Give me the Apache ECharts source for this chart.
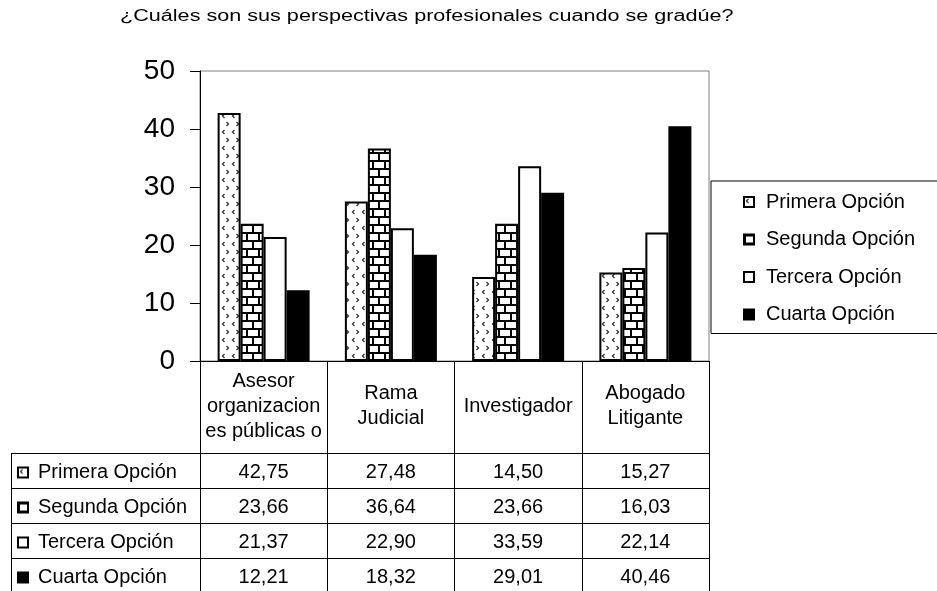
<!DOCTYPE html>
<html><head><meta charset="utf-8">
<script src="https://cdn.jsdelivr.net/npm/echarts@6/dist/echarts.min.js"></script>
<style>html,body{margin:0;padding:0;background:#fff}#c{width:937px;height:591px}</style>
</head><body><div id="c"></div>
<script>
const titleText = '¿Cuáles son sus perspectivas profesionales cuando se gradúe?';
const categories = ['Asesor\norganizacion\nes públicas o', 'Rama\nJudicial', 'Investigador', 'Abogado\nLitigante'];
const seriesNames = ['Primera Opción', 'Segunda Opción', 'Tercera Opción', 'Cuarta Opción'];
const primera = [42.75, 27.48, 14.50, 15.27];
const segunda = [23.66, 36.64, 23.66, 16.03];
const tercera = [21.37, 22.90, 33.59, 22.14];
const cuarta  = [12.21, 18.32, 29.01, 40.46];
const yTicks = [0, 10, 20, 30, 40, 50];

const FONT = "'Liberation Sans', Arial, sans-serif";
const values = [primera, segunda, tercera, cuarta];
const fmt = v => v.toFixed(2).replace('.', ',');

function dotPattern() {
  const c = document.createElement('canvas'); c.width = 10; c.height = 16;
  const g = c.getContext('2d');
  g.fillStyle = '#fff'; g.fillRect(0, 0, 10, 16);
  g.strokeStyle = '#333'; g.lineWidth = 1.3;
  g.beginPath(); g.moveTo(4.5, 2); g.lineTo(2.5, 4); g.lineTo(4.5, 6); g.stroke();
  g.beginPath(); g.moveTo(6.5, 10); g.lineTo(8.5, 12); g.lineTo(6.5, 14); g.stroke();
  return c;
}
function brickPattern() {
  const c = document.createElement('canvas'); c.width = 12; c.height = 16;
  const g = c.getContext('2d');
  g.fillStyle = '#fff'; g.fillRect(0, 0, 12, 16);
  g.fillStyle = '#000';
  g.fillRect(0, 0, 12, 2); g.fillRect(0, 0, 2, 8);
  g.fillRect(0, 8, 12, 2); g.fillRect(6, 8, 2, 8);
  return c;
}
const fills = [
  { image: dotPattern(), repeat: 'repeat' },
  { image: brickPattern(), repeat: 'repeat' },
  '#ffffff',
  '#000000'
];

// layout constants
const G = { left: 200, right: 228, top: 71, bottom: 230 };
const H_HEAD = 92, H_ROW = 35;
const plotBottom = 591 - G.bottom;
const tableTop = plotBottom + H_HEAD;
const tableLeft = 11;
const TFS = 20;

const black = { color: '#000', width: 1 };

const xAxes = [{
  type: 'category', data: categories, position: 'bottom', gridIndex: 0,
  axisLine: { lineStyle: black },
  axisTick: { show: true, interval: 0, length: H_HEAD, lineStyle: black },
  axisLabel: { interval: 0, margin: 45, verticalAlign: 'middle', fontSize: TFS, lineHeight: 25, color: '#000', fontFamily: FONT }
}];
values.forEach((arr, k) => {
  xAxes.push({
    type: 'category', data: categories, position: 'bottom', gridIndex: 0,
    offset: H_HEAD + H_ROW * k,
    axisLine: { lineStyle: black },
    axisTick: { show: true, interval: 0, length: H_ROW, lineStyle: black },
    axisLabel: { interval: 0, margin: 19, verticalAlign: 'middle', fontSize: TFS, color: '#000', fontFamily: FONT,
      formatter: (val, idx) => fmt(arr[idx]) }
  });
});
xAxes.push({
  type: 'category', data: categories, position: 'bottom', gridIndex: 0,
  offset: H_HEAD + H_ROW * 4 - 1,
  axisLine: { lineStyle: black }, axisTick: { show: false }, axisLabel: { show: false }
});

const graphics = [];
for (let k = 0; k <= 4; k++) {
  const y = tableTop + H_ROW * k - (k === 4 ? 1 : 0) + 0.5;
  graphics.push({ type: 'line', shape: { x1: tableLeft, y1: y, x2: G.left, y2: y }, style: { stroke: '#000', lineWidth: 1 } });
}
graphics.push({ type: 'line', shape: { x1: tableLeft + 0.5, y1: tableTop, x2: tableLeft + 0.5, y2: tableTop + H_ROW * 4 }, style: { stroke: '#000', lineWidth: 1 } });
graphics.push({ type: 'text', x: 120, y: 17, scaleX: 1.35, scaleY: 1,
  style: { text: titleText, fontSize: 16, fontFamily: FONT, fill: '#000', verticalAlign: 'middle', align: 'left' } });

const option = {
  animation: false,
  backgroundColor: '#fff',
  textStyle: { fontFamily: FONT },
  grid: { left: G.left, right: G.right, top: G.top, bottom: G.bottom, show: true, borderColor: '#808080', borderWidth: 1, containLabel: false },
  legend: [{
    data: seriesNames, orient: 'vertical', left: 711, top: 181, padding: [10, 70, 8, 32],
    itemWidth: 10, itemHeight: 10, itemGap: 15.5, icon: 'rect', selectedMode: false,
    borderColor: '#000', borderWidth: 1,
    textStyle: { fontSize: TFS, lineHeight: 22, color: '#000', fontFamily: FONT, padding: [0, 0, 0, 7] }
  }, {
    data: seriesNames, orient: 'vertical', left: 17, top: tableTop + 2, height: 170, padding: 0,
    itemWidth: 10, itemHeight: 10, itemGap: 0, icon: 'rect', selectedMode: false,
    textStyle: { fontSize: TFS, lineHeight: H_ROW, color: '#000', fontFamily: FONT, padding: [0, 0, 0, 5] }
  }],
  xAxis: xAxes,
  yAxis: {
    type: 'value', min: yTicks[0], max: yTicks[yTicks.length - 1], interval: yTicks[1] - yTicks[0],
    axisLine: { show: true, lineStyle: black },
    axisTick: { show: true, length: 10, lineStyle: black },
    splitLine: { show: false },
    axisLabel: { fontSize: 28, margin: 25, color: '#000', fontFamily: FONT }
  },
  graphic: graphics,
  series: values.map((v, i) => ({
    name: seriesNames[i], type: 'bar', data: v, xAxisIndex: 0, yAxisIndex: 0,
    barWidth: 23, barGap: '0%',
    itemStyle: { color: fills[i], borderColor: '#000', borderWidth: 2 }
  }))
};
const chart = echarts.init(document.getElementById('c'), null, { renderer: 'canvas' });
chart.setOption(option);
</script>
</body></html>
